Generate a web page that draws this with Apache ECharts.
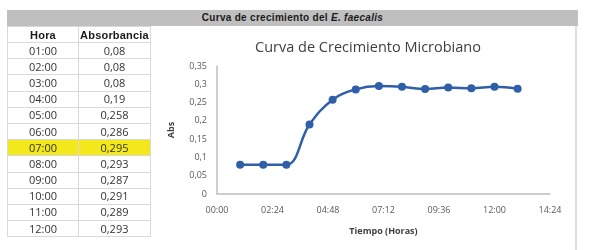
<!DOCTYPE html>
<html>
<head>
<meta charset="utf-8">
<script src="https://cdn.jsdelivr.net/npm/echarts@6/dist/echarts.min.js"></script>
<style>
  html, body { margin: 0; padding: 0; background: #ffffff; }
  #wrap { position: relative; width: 589px; height: 250px; overflow: hidden; }
  #chart { position: absolute; left: 0; top: 0; width: 589px; height: 250px; }
  #band { position: absolute; left: 7px; top: 10px; width: 571px; height: 16px; background: #bfbfbf;
          font: bold 10px "Liberation Sans", Arial, sans-serif; color: #1a1a1a; text-align: center; line-height: 16px; letter-spacing: 0.3px; }
  #frame { position: absolute; left: 575px; top: 26px; width: 2px; height: 224px; background: #dcdfe6; }
  table { position: absolute; left: 7px; top: 26px; border-collapse: collapse; }
  td, th { padding: 0; text-align: center; border: 1px solid #d9d9d9; }
  th { font: bold 11px "Liberation Sans", Arial, sans-serif; color: #1a1a1a; height: 15px; letter-spacing: 0.2px; }
  td { font: 11px "Open Sans", sans-serif; color: #333333; height: 15.2px; line-height: 14px; }
  .c1 { width: 70px; } .c2 { width: 71px; }
  tr.hl td { background: #f2e81c; }
</style>
</head>
<body>
<div id="wrap">
  <div id="chart"></div>
  <div id="band">Curva de crecimiento del <i>E. faecalis</i></div>
  <div id="frame"></div>
  <table id="tbl"></table>
</div>
<script>
// Table data
var tableHours = ["01:00","02:00","03:00","04:00","05:00","06:00","07:00","08:00","09:00","10:00","11:00","12:00"];
var tableAbs = ["0,08","0,08","0,08","0,19","0,258","0,286","0,295","0,293","0,287","0,291","0,289","0,293"];
var highlightRow = "07:00";

// Chart data (hours, absorbance)
var chartHours = [1,2,3,4,5,6,7,8,9,10,11,12,13];
var chartAbs = [0.08,0.08,0.08,0.19,0.258,0.286,0.295,0.293,0.287,0.291,0.289,0.293,0.288];

// build table
var tbl = document.getElementById('tbl');
var html = '<tr><th class="c1">Hora</th><th class="c2">Absorbancia</th></tr>';
for (var i = 0; i < tableHours.length; i++) {
  html += '<tr' + (tableHours[i] === highlightRow ? ' class="hl"' : '') + '><td class="c1">' + tableHours[i] + '</td><td class="c2">' + tableAbs[i] + '</td></tr>';
}
tbl.innerHTML = html;

function fmtTime(mins) {
  var m = Math.round(mins);
  var h = Math.floor(m / 60), mm = m % 60;
  return (h < 10 ? '0' : '') + h + ':' + (mm < 10 ? '0' : '') + mm;
}

var chart = echarts.init(document.getElementById('chart'), null, { renderer: 'canvas' });
var seriesData = chartHours.map(function (h, i) { return [h * 60, chartAbs[i]]; });
chart.setOption({
  animation: false,
  title: {
    text: 'Curva de Crecimiento Microbiano',
    left: 363, top: 35, textAlign: 'center',
    textStyle: { fontFamily: 'Open Sans', fontSize: 14.5, fontWeight: 'normal', color: '#404040' }
  },
  grid: { left: 217, right: 39, top: 66, bottom: 56, containLabel: false },
  xAxis: {
    type: 'value', min: 0, max: 864, interval: 144,
    name: 'Tiempo (Horas)', nameLocation: 'middle', nameGap: 33,
    nameTextStyle: { fontFamily: 'Open Sans', fontSize: 9, fontWeight: 'bold', color: '#404040' },
    axisLine: { show: true, lineStyle: { color: '#bfbfbf', width: 1.5 } },
    axisTick: { show: false },
    splitLine: { show: false },
    axisLabel: { formatter: fmtTime, margin: 12, fontFamily: 'Open Sans', fontSize: 9, color: '#595959' }
  },
  yAxis: {
    type: 'value', min: 0, max: 0.35, interval: 0.05,
    name: 'Abs', nameLocation: 'middle', nameGap: 41,
    nameTextStyle: { fontFamily: 'Open Sans', fontSize: 9, fontWeight: 'bold', color: '#404040' },
    axisLine: { show: true, lineStyle: { color: '#bfbfbf', width: 1.5 } },
    axisTick: { show: false },
    splitLine: { show: false },
    axisLabel: {
      formatter: function (v) { return String(Math.round(v * 100) / 100).replace('.', ','); },
      margin: 10, fontFamily: 'Open Sans', fontSize: 9, color: '#595959'
    }
  },
  series: [{
    type: 'line', data: seriesData, smooth: 0.4,
    symbol: 'circle', symbolSize: 8,
    lineStyle: { color: '#2e5fa8', width: 2.5 },
    itemStyle: { color: '#2e5fa8' }
  }]
});
</script>
</body>
</html>
